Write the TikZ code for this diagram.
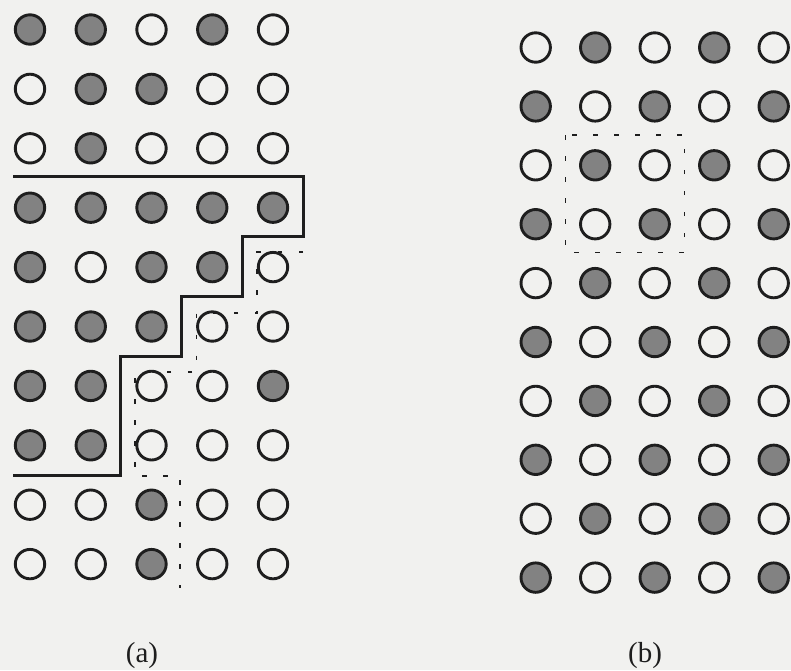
\documentclass[tikz,border=0pt]{standalone}
\usepackage{fontspec}
\setmainfont{Liberation Serif}
\definecolor{bgcol}{RGB}{241,241,239}
\definecolor{ink}{RGB}{30,30,30}
\definecolor{dotfill}{RGB}{130,130,130}
\tikzset{
  dotbase/.style={circle, minimum size=29.4pt, inner sep=0pt, line width=2.9pt, draw=ink},
  dot0/.style={dotbase},
  dot1/.style={dotbase, fill=dotfill},
  wall/.style={line width=3pt, draw=ink, line join=miter},
  dashline/.style={line width=1.3pt, draw=ink, dash pattern=on 4.5pt off 16.5pt},
  lab/.style={font=\fontsize{29}{35}\selectfont, anchor=base, text=ink, inner sep=0pt}
}
\begin{document}
\begin{tikzpicture}[x=1pt, y=-1pt]
  \fill[bgcol] (0,0) rectangle (791,670);
  \useasboundingbox (0,0) rectangle (791,670);
  % left grid (a)
  \foreach \row [count=\i] in {{1,1,0,1,0},{0,1,1,0,0},{0,1,0,0,0},{1,1,1,1,1},{1,0,1,1,0},
                               {1,1,1,0,0},{1,1,0,0,1},{1,1,0,0,0},{0,0,1,0,0},{0,0,1,0,0}}{
    \foreach \v [count=\j] in \row {
      \pgfmathsetmacro{\px}{30+60.75*(\j-1)}
      \pgfmathsetmacro{\py}{29.5+59.4*(\i-1)}
      \node[dot\v] (L-\i-\j) at (\px,\py) {};
    }
  }
  % right grid (b)
  \foreach \i in {1,...,10}{
    \foreach \j in {1,...,5}{
      \pgfmathtruncatemacro{\v}{mod(\i+\j,2)}
      \pgfmathsetmacro{\px}{535.7+59.5*(\j-1)}
      \pgfmathsetmacro{\py}{47.5+58.9*(\i-1)}
      \node[dot\v] (R-\i-\j) at (\px,\py) {};
    }
  }
  % solid staircase
  \draw[wall] (13,176.5) -- (303,176.5) -- (303,236) -- (242.5,236) -- (242.5,296)
     -- (181,296) -- (181,356) -- (120.5,356) -- (120.5,475.5) -- (13,475.5);
  % dashed staircase
  \draw[dashline] (303,252) -- (257,252) -- (257,313) -- (196.5,313) -- (196.5,372)
     -- (135,372) -- (135,476) -- (180,476) -- (180,588);
  % dashed box in (b)
  \draw[dashline] (565.5,135) rectangle (684.5,252.5);
  % labels
  \node[lab] (la) at (142,662) {(a)};
  \node[lab] (lb) at (645,662) {(b)};
\end{tikzpicture}
\end{document}
